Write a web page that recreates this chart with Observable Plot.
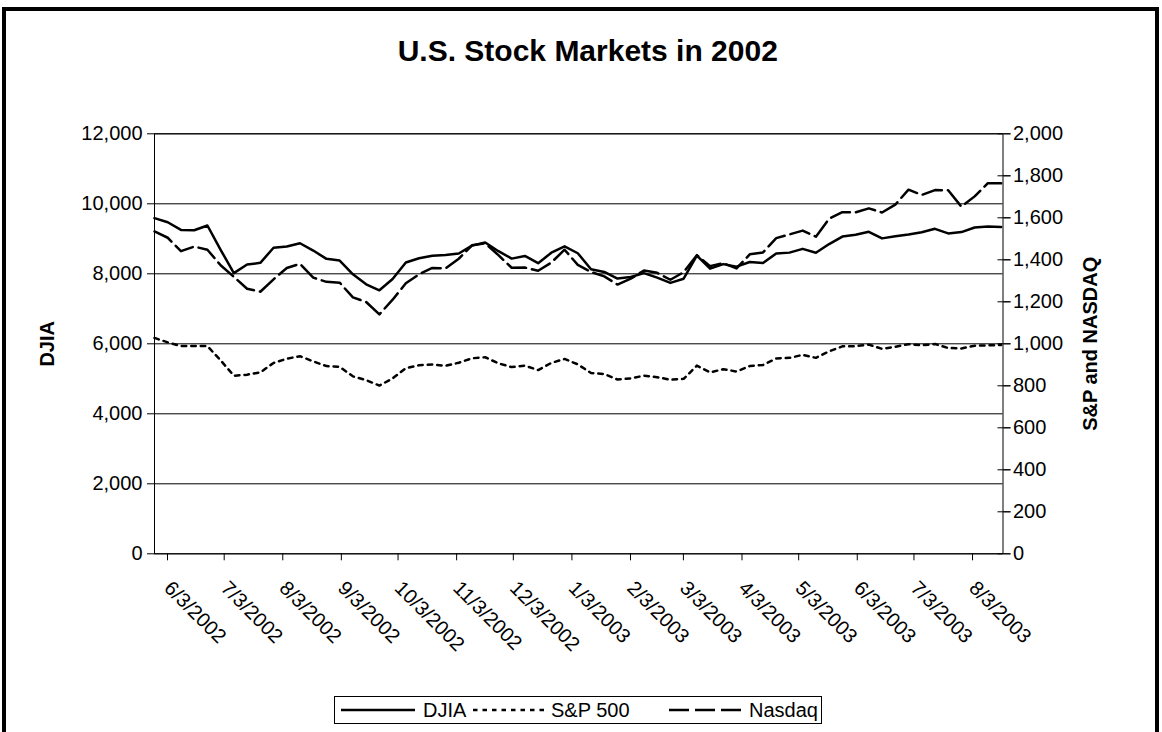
<!DOCTYPE html>
<html>
<head>
<meta charset="utf-8">
<script src="https://cdn.jsdelivr.net/npm/d3@7"></script>
<script src="https://cdn.jsdelivr.net/npm/@observablehq/plot@0.6"></script>
<style>
  html, body { margin: 0; padding: 0; background: #fff; }
  #wrap { position: relative; width: 1162px; height: 732px; overflow: hidden; background: #fff;
          font-family: 'Liberation Sans', Arial, sans-serif; color: #000; }
  #chart { position: absolute; left: 0; top: 0; }
  #frame { position: absolute; left: 2px; top: 7px; width: 1157px; height: 760px;
           border: 4px solid #000; box-sizing: border-box; pointer-events: none; }
  #legend { position: absolute; left: 334px; top: 696px; width: 488px; height: 28px;
            border: 1px solid #000; box-sizing: border-box; font-size: 20px; background: #fff; }
  #legend svg, #legend span { position: absolute; }
  #legend span { top: 2px; line-height: 22px; white-space: nowrap; }
  #legend svg { top: 8px; }
</style>
</head>
<body>
<div id="wrap">
  <div id="chart"></div>
  <div id="legend"></div>
  <div id="frame"></div>
</div>
<script>
// ---- data (weekly, dated by Monday) ----
const dates = [
  "2002-06-03","2002-06-10","2002-06-17","2002-06-24","2002-07-01","2002-07-08","2002-07-15","2002-07-22","2002-07-29",
  "2002-08-05","2002-08-12","2002-08-19","2002-08-26","2002-09-02","2002-09-09","2002-09-16","2002-09-23","2002-09-30",
  "2002-10-07","2002-10-14","2002-10-21","2002-10-28","2002-11-04","2002-11-11","2002-11-18","2002-11-25","2002-12-02",
  "2002-12-09","2002-12-16","2002-12-23","2002-12-30",
  "2003-01-06","2003-01-13","2003-01-20","2003-01-27","2003-02-03","2003-02-10","2003-02-17","2003-02-24","2003-03-03",
  "2003-03-10","2003-03-17","2003-03-24","2003-03-31","2003-04-07","2003-04-14","2003-04-21","2003-04-28","2003-05-05",
  "2003-05-12","2003-05-19","2003-05-26","2003-06-02","2003-06-09","2003-06-16","2003-06-23","2003-06-30","2003-07-07",
  "2003-07-14","2003-07-21","2003-07-28","2003-08-04","2003-08-11","2003-08-18","2003-08-25"
];
const djia = [
  9590, 9474, 9254, 9243, 9380, 8685, 8019, 8264, 8313, 8745,
  8778, 8873, 8664, 8427, 8379, 7986, 7701, 7528, 7850, 8322,
  8444, 8518, 8537, 8579, 8805, 8896, 8646, 8434, 8511, 8304,
  8602, 8786, 8587, 8131, 8054, 7864, 7909, 8018, 7891, 7740,
  7860, 8522, 8146, 8277, 8203, 8338, 8306, 8583, 8605, 8713,
  8601, 8850, 9063, 9117, 9201, 9012, 9070, 9120, 9188, 9285,
  9154, 9191, 9322, 9349, 9340
];
const sp500 = [
  1028, 1007, 989, 990, 989, 921, 848, 853, 864, 909,
  929, 941, 916, 894, 890, 845, 827, 801, 835, 884,
  898, 901, 895, 910, 931, 936, 907, 889, 896, 875,
  909, 928, 902, 861, 856, 830, 835, 848, 841, 829,
  833, 896, 864, 879, 868, 894, 899, 930, 933, 947,
  933, 964, 988, 989, 996, 976, 986, 998, 993, 999,
  980, 978, 991, 993, 994
];
const nasdaq = [
  1535, 1505, 1441, 1463, 1448, 1374, 1319, 1262, 1248, 1307,
  1361, 1381, 1315, 1295, 1291, 1221, 1199, 1140, 1210, 1288,
  1331, 1361, 1359, 1405, 1469, 1479, 1422, 1362, 1363, 1348,
  1387, 1448, 1376, 1342, 1321, 1282, 1310, 1349, 1338, 1305,
  1341, 1422, 1370, 1384, 1359, 1426, 1435, 1503, 1521, 1539,
  1510, 1596, 1627, 1626, 1645, 1625, 1663, 1734, 1709, 1732,
  1731, 1653, 1702, 1765, 1764
];
const seriesNames = ["DJIA", "S&P 500", "Nasdaq"];
const xTickDates = [
  "2002-06-03","2002-07-03","2002-08-03","2002-09-03","2002-10-03","2002-11-03","2002-12-03",
  "2003-01-03","2003-02-03","2003-03-03","2003-04-03","2003-05-03","2003-06-03","2003-07-03","2003-08-03"
];
const leftTicks = [0, 2000, 4000, 6000, 8000, 10000, 12000];
const rightTicks = [0, 200, 400, 600, 800, 1000, 1200, 1400, 1600, 1800, 2000];
const xDomain = ["2002-06-03", "2003-08-26"];
const titleText = "U.S. Stock Markets in 2002";
const leftLabel = "DJIA";
const rightLabel = "S&P and NASDAQ";

// ---- build ----
const R = leftTicks[leftTicks.length - 1] / rightTicks[rightTicks.length - 1]; // secondary-axis ratio
const toDate = s => new Date(s + "T00:00:00Z");
const rows = dates.map((d, i) => ({ date: toDate(d), djia: djia[i], sp: sp500[i], nasdaq: nasdaq[i] }));
const fmtDate = d => `${d.getUTCMonth() + 1}/${d.getUTCDate()}/${d.getUTCFullYear()}`;
const fmtNum = d3.format(",");

const styles = [
  { stroke: "#000", strokeWidth: 2.5, strokeDasharray: null },
  { stroke: "#000", strokeWidth: 2.5, strokeDasharray: "4.5,5" },
  { stroke: "#000", strokeWidth: 2.5, strokeDasharray: "20,6" }
];

const W = 1162, H = 732;
const chart = Plot.plot({
  width: W, height: H,
  marginLeft: 154, marginRight: W - 1002.5, marginTop: 133.3, marginBottom: H - 553.3,
  style: { fontFamily: "'Liberation Sans', Arial, sans-serif", fontSize: "20px", color: "#000", background: "transparent", overflow: "visible" },
  x: { type: "utc", domain: xDomain.map(toDate) },
  y: { domain: [leftTicks[0], leftTicks[leftTicks.length - 1]] },
  marks: [
    Plot.ruleY(leftTicks, { stroke: "#000", strokeWidth: 1 }),
    Plot.frame({ stroke: "#000", strokeWidth: 1 }),
    Plot.axisY(leftTicks, { anchor: "left", tickSize: 7, tickPadding: 5, tickFormat: fmtNum, label: null }),
    Plot.axisY(rightTicks.map(v => v * R), { anchor: "right", tickSize: 13, dx: -6, tickFormat: () => "", label: null }),
    Plot.axisY(rightTicks.map(v => v * R), { anchor: "right", tickSize: 7, tickPadding: 3, tickFormat: v => fmtNum(Math.round(v / R)), label: null }),
    Plot.axisX(xTickDates.map(toDate), { anchor: "bottom", tickSize: 7, tickRotate: 45, textAnchor: "start", tickPadding: 24, dx: 13, tickFormat: fmtDate, label: null }),
    Plot.lineY(rows, { x: "date", y: d => d.sp * R, ...styles[1] }),
    Plot.lineY(rows, { x: "date", y: d => d.nasdaq * R, ...styles[2] }),
    Plot.lineY(rows, { x: "date", y: "djia", ...styles[0] }),
    Plot.text([leftLabel], { text: d => d, frameAnchor: "left", textAnchor: "middle", dx: -107, rotate: -90, fontWeight: "bold", fontSize: 20 }),
    Plot.text([rightLabel], { text: d => d, frameAnchor: "right", textAnchor: "middle", dx: 88, rotate: -90, fontWeight: "bold", fontSize: 20 }),
    Plot.text([titleText], { text: d => d, frameAnchor: "top", dx: 9, dy: -73, lineAnchor: "bottom", fontWeight: "bold", fontSize: 30 })
  ]
});
document.getElementById("chart").appendChild(chart);

// ---- legend (sample + label per series) ----
const legend = document.getElementById("legend");
const legendSampleLeft = [6, 138, 334];   // offsets inside the legend box
const legendTextLeft = [88, 216, 414];
const legendSampleWidth = 74;
seriesNames.forEach((name, i) => {
  const s = styles[i];
  const svg = document.createElementNS("http://www.w3.org/2000/svg", "svg");
  svg.setAttribute("width", String(legendSampleWidth));
  svg.setAttribute("height", "10");
  svg.style.left = legendSampleLeft[i] + "px";
  svg.innerHTML = `<line x1="0" y1="5" x2="${legendSampleWidth}" y2="5" stroke="${s.stroke}" stroke-width="${s.strokeWidth}"${s.strokeDasharray ? ` stroke-dasharray="${s.strokeDasharray}"` : ""}/>`;
  legend.appendChild(svg);
  const t = document.createElement("span");
  t.textContent = name;
  t.style.left = legendTextLeft[i] + "px";
  legend.appendChild(t);
});
</script>
</body>
</html>
